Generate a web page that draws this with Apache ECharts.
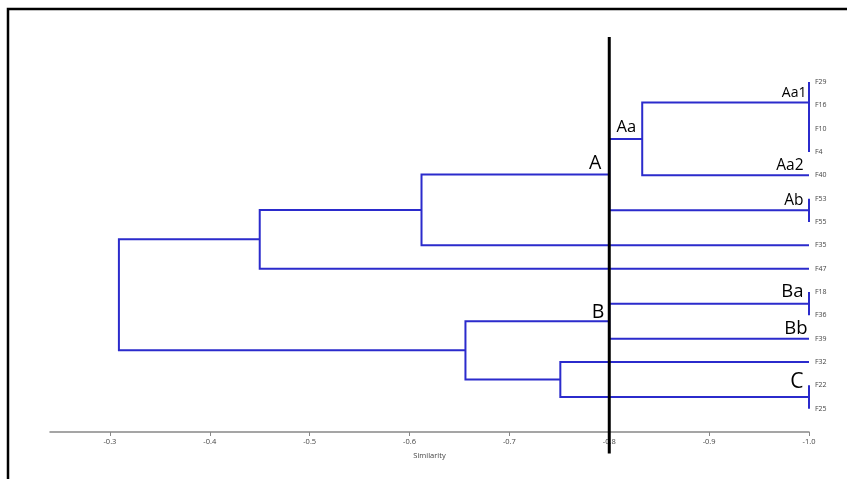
<!DOCTYPE html>
<html><head><meta charset="utf-8">
<script src="https://cdn.jsdelivr.net/npm/echarts@6/dist/echarts.min.js"></script>
<style>html,body{margin:0;padding:0;background:#fff}#c{width:847px;height:479px}</style>
</head><body><div id="c"></div>
<script>
// ---------- data ----------
const leaves = ['F29','F16','F10','F4','F40','F53','F55','F35','F47','F18','F36','F39','F32','F22','F25'];
const leafSimilarity = -1.0;
const mergeIds        = ['m0','m1','m2','m3','m4','m5','m6','m7','m8','m9','m10','m11','m12','m13'];
const mergeLeft       = ['F10','F16','F29','m2','F53','m3','m5','m6','F18','m8','F22','F32','m9','m7'];
const mergeRight      = ['F4','m0','m1','F40','F55','m4','F35','F47','F36','F39','F25','m10','m11','m12'];
const mergeSimilarity = [-1.0,-1.0,-1.0,-0.833,-1.0,-0.80,-0.612,-0.450,-1.0,-0.80,-1.0,-0.751,-0.656,-0.309];
const xTicks = [-1.0,-0.9,-0.8,-0.7,-0.6,-0.5,-0.4,-0.3];
const cutSimilarity = -0.8;
const clusterNames   = ['Aa1','Aa','Aa2','Ab','A','Ba','B','Bb','C'];
const clusterAnchors = ['m2','m3','F40','m4','m5','m8','m9','F39','m10'];

// ---------- styles (not data) ----------
const labelStyle = {
  'Aa1': {dx:-2.5, dy:-9,   size:14},
  'Aa':  {dx:-6,   dy:-11.5,size:16.5},
  'Aa2': {dx:-5.5, dy:-10,  size:15.5},
  'Ab':  {dx:-5.5, dy:-10,  size:15.5},
  'A':   {dx:-8,   dy:-11,  size:19.5},
  'Ba':  {dx:-5.5, dy:-12,  size:18.5},
  'B':   {dx:-5,   dy:-9,   size:19.5},
  'Bb':  {dx:-1.5, dy:-10,  size:18.5},
  'C':   {dx:-5.5, dy:-14.5,size:21}
};
const cutExtent = [-1.93, 15.92]; // in leaf-row units
const BLUE = '#2b2bcc';

// ---------- build ----------
function nodePos(id) {
  const li = leaves.indexOf(id);
  if (li >= 0) return [leafSimilarity, li];
  const mi = mergeIds.indexOf(id);
  const a = nodePos(mergeLeft[mi]), b = nodePos(mergeRight[mi]);
  return [mergeSimilarity[mi], (a[1] + b[1]) / 2];
}
const linkData = mergeIds.map((id, i) => {
  const a = nodePos(mergeLeft[i]), b = nodePos(mergeRight[i]);
  return [a[0], a[1], mergeSimilarity[i], b[0], b[1]];
});
const labelData = clusterNames.map((n, i) => {
  const p = nodePos(clusterAnchors[i]);
  return [p[0], p[1], i];
});

const chart = echarts.init(document.getElementById('c'), null, {renderer:'canvas'});
chart.setOption({
  animation: false,
  backgroundColor: '#fff',
  graphic: [{
    type: 'rect', z: -10,
    shape: {x: 8, y: 9, width: 1000, height: 1000},
    style: {fill: 'transparent', stroke: '#000', lineWidth: 2.5}
  }],
  grid: {left: 50, right: 38, top: 82, bottom: 47},
  xAxis: {
    type: 'value', min: -1.0, max: -0.24, inverse: true, position: 'bottom',
    splitLine: {show: false},
    axisLine: {show: true, onZero: false, lineStyle: {color: '#888', width: 1.5}},
    axisTick: {show: true, customValues: xTicks, length: 4, lineStyle: {color: '#888'}},
    axisLabel: {customValues: xTicks, formatter: v => v.toFixed(1), fontSize: 7.5, color: '#444', margin: 6, fontFamily: 'Open Sans'},
    name: 'Similarity', nameLocation: 'middle', nameGap: 20,
    nameTextStyle: {fontSize: 7.5, color: '#444', fontFamily: 'Open Sans'}
  },
  yAxis: {
    type: 'value', min: 0, max: 15, inverse: true, position: 'right',
    splitLine: {show: false}, axisLine: {show: false}, axisTick: {show: false},
    axisLabel: {customValues: leaves.map((_, i) => i), formatter: v => leaves[v] || '', fontSize: 7, color: '#444', margin: 6, fontFamily: 'Open Sans'}
  },
  series: [
    {
      type: 'custom', clip: false, data: linkData,
      renderItem: (params, api) => {
        const p1 = api.coord([api.value(0), api.value(1)]);
        const p2 = api.coord([api.value(2), api.value(1)]);
        const p3 = api.coord([api.value(2), api.value(4)]);
        const p4 = api.coord([api.value(3), api.value(4)]);
        return {type: 'polyline', shape: {points: [p1, p2, p3, p4]},
                style: {stroke: BLUE, lineWidth: 2, fill: null}};
      }
    },
    {
      type: 'custom', clip: false, data: [[cutSimilarity, cutExtent[0], cutExtent[1]]], z: 5,
      renderItem: (params, api) => {
        const a = api.coord([api.value(0), api.value(1)]);
        const b = api.coord([api.value(0), api.value(2)]);
        return {type: 'line', shape: {x1: a[0], y1: a[1], x2: b[0], y2: b[1]},
                style: {stroke: '#000', lineWidth: 3}};
      }
    },
    {
      type: 'custom', clip: false, data: labelData, z: 6,
      renderItem: (params, api) => {
        const p = api.coord([api.value(0), api.value(1)]);
        const name = clusterNames[api.value(2)];
        const s = labelStyle[name];
        return {type: 'text', x: p[0] + s.dx, y: p[1] + s.dy,
                style: {text: name, fontSize: s.size, fontFamily: 'Open Sans', fill: '#000',
                        align: 'right', verticalAlign: 'middle'}};
      }
    }
  ]
});
</script></body></html>
